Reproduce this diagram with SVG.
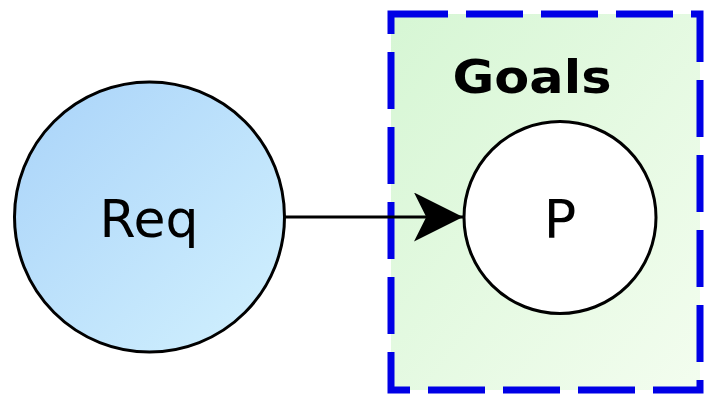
<svg xmlns="http://www.w3.org/2000/svg" width="704" height="399" viewBox="0 0 704 399">
<defs>
<linearGradient id="reqFill" x1="0" y1="0" x2="1" y2="1">
<stop offset="0" stop-color="#a9d3f9"/>
<stop offset="1" stop-color="#d2f1fe"/>
</linearGradient>
<linearGradient id="goalFill" x1="0" y1="0" x2="1" y2="1">
<stop offset="0" stop-color="#d6f6d4"/>
<stop offset="1" stop-color="#f3fdef"/>
</linearGradient>
<marker id="arrow" viewBox="0 0 20 20" refX="20" refY="10" markerWidth="55" markerHeight="49" markerUnits="userSpaceOnUse" orient="auto">
<path d="M0,0 L20,10 L0,20 L5,10 Z" fill="#000"/>
</marker>
<style>
text{font-family:"DejaVu Sans","Liberation Sans",sans-serif;fill:#000;text-anchor:middle}
.node{stroke:#000;stroke-width:3}
</style>
</defs>
<rect width="704" height="399" fill="#fff"/>
<g id="goals">
<rect x="391" y="14" width="309" height="376" fill="url(#goalFill)" stroke="#0000e6" stroke-width="7" stroke-dasharray="57 18"/>
<text x="532" y="93" font-size="46" font-weight="bold" textLength="159" lengthAdjust="spacingAndGlyphs">Goals</text>
</g>
<g id="req">
<circle cx="149.5" cy="217" r="135" fill="url(#reqFill)" class="node"/>
<text x="149" y="237" font-size="52">Req</text>
</g>
<g id="p">
<circle cx="560" cy="217.5" r="96" fill="#fff" class="node"/>
<text x="560" y="238" font-size="54">P</text>
</g>
<g id="connectors">
<line x1="285" y1="217" x2="463" y2="217" stroke="#000" stroke-width="3" marker-end="url(#arrow)"/>
</g>
</svg>
